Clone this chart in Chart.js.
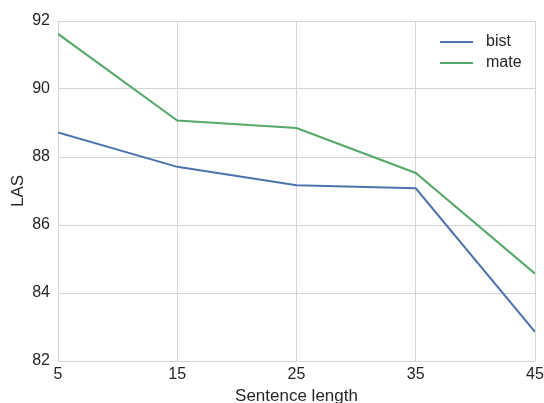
<!DOCTYPE html>
<html>
<head>
<meta charset="utf-8">
<script src="https://cdn.jsdelivr.net/npm/chart.js@4"></script>
<style>
  html, body { margin: 0; padding: 0; background: #fff; }
  #wrap { width: 544px; height: 403px; }
</style>
</head>
<body>
<div id="wrap"><canvas id="lasChart" width="544" height="403"></canvas></div>
<script>
// Sentence length buckets and LAS scores
const lengths = [5, 15, 25, 35, 45];
const bistScores = [88.72, 87.71, 87.17, 87.08, 82.86];
const mateScores = [91.62, 89.07, 88.85, 87.53, 84.57];
const yTicks = [82, 84, 86, 88, 90, 92];

const font = "Arial, 'Liberation Sans', sans-serif";
const gridColor = "#d5d5d5";

// legend drawn inside the plot area, top right (seaborn style)
const innerLegend = {
    id: "innerLegend",
    afterDatasetsDraw(chart) {
        const ctx = chart.ctx;
        const area = chart.chartArea;
        ctx.save();
        ctx.font = "16px " + font;
        ctx.textBaseline = "middle";
        chart.data.datasets.forEach((ds, i) => {
            const y = area.top + 21 + i * 21;
            const x0 = area.right - 95;
            ctx.strokeStyle = ds.borderColor;
            ctx.lineWidth = 2;
            ctx.beginPath();
            ctx.moveTo(x0, y);
            ctx.lineTo(x0 + 33, y);
            ctx.stroke();
            ctx.fillStyle = "#262626";
            ctx.fillText(ds.label, x0 + 46, y);
        });
        ctx.restore();
    }
};

new Chart(document.getElementById("lasChart").getContext("2d"), {
    type: "line",
    data: {
        datasets: [
            {
                label: "bist",
                data: lengths.map((x, i) => ({ x: x, y: bistScores[i] })),
                borderColor: "#4C72B0",
                borderWidth: 2,
                pointRadius: 0,
                tension: 0,
                fill: false
            },
            {
                label: "mate",
                data: lengths.map((x, i) => ({ x: x, y: mateScores[i] })),
                borderColor: "#55A868",
                borderWidth: 2,
                pointRadius: 0,
                tension: 0,
                fill: false
            }
        ]
    },
    options: {
        responsive: false,
        animation: false,
        layout: { padding: { top: 21, right: 9, left: 0, bottom: 0 } },
        plugins: {
            legend: { display: false },
            tooltip: { enabled: false }
        },
        scales: {
            x: {
                type: "linear",
                min: 5,
                max: 45,
                afterBuildTicks: (scale) => { scale.ticks = lengths.map(v => ({ value: v })); },
                afterFit: (scale) => { scale.height = 42; scale.paddingRight = 0; },
                grid: { color: gridColor, lineWidth: 1, drawTicks: false },
                border: { display: false },
                ticks: { color: "#262626", font: { family: font, size: 16 }, padding: 4, maxRotation: 0 },
                title: {
                    display: true,
                    text: "Sentence length",
                    color: "#262626",
                    font: { family: font, size: 17, lineHeight: 1 },
                    padding: { top: 0, bottom: -2 }
                }
            },
            y: {
                min: 82,
                max: 92,
                afterBuildTicks: (scale) => { scale.ticks = yTicks.map(v => ({ value: v })); },
                afterFit: (scale) => { scale.width = 58; },
                grid: { color: gridColor, lineWidth: 1, drawTicks: false },
                border: { display: false },
                ticks: { color: "#262626", font: { family: font, size: 16 }, padding: 8 },
                title: {
                    display: true,
                    text: "LAS",
                    color: "#262626",
                    font: { family: font, size: 17 },
                    padding: { top: 8, bottom: 0 }
                }
            }
        }
    },
    plugins: [innerLegend]
});
</script>
</body>
</html>
